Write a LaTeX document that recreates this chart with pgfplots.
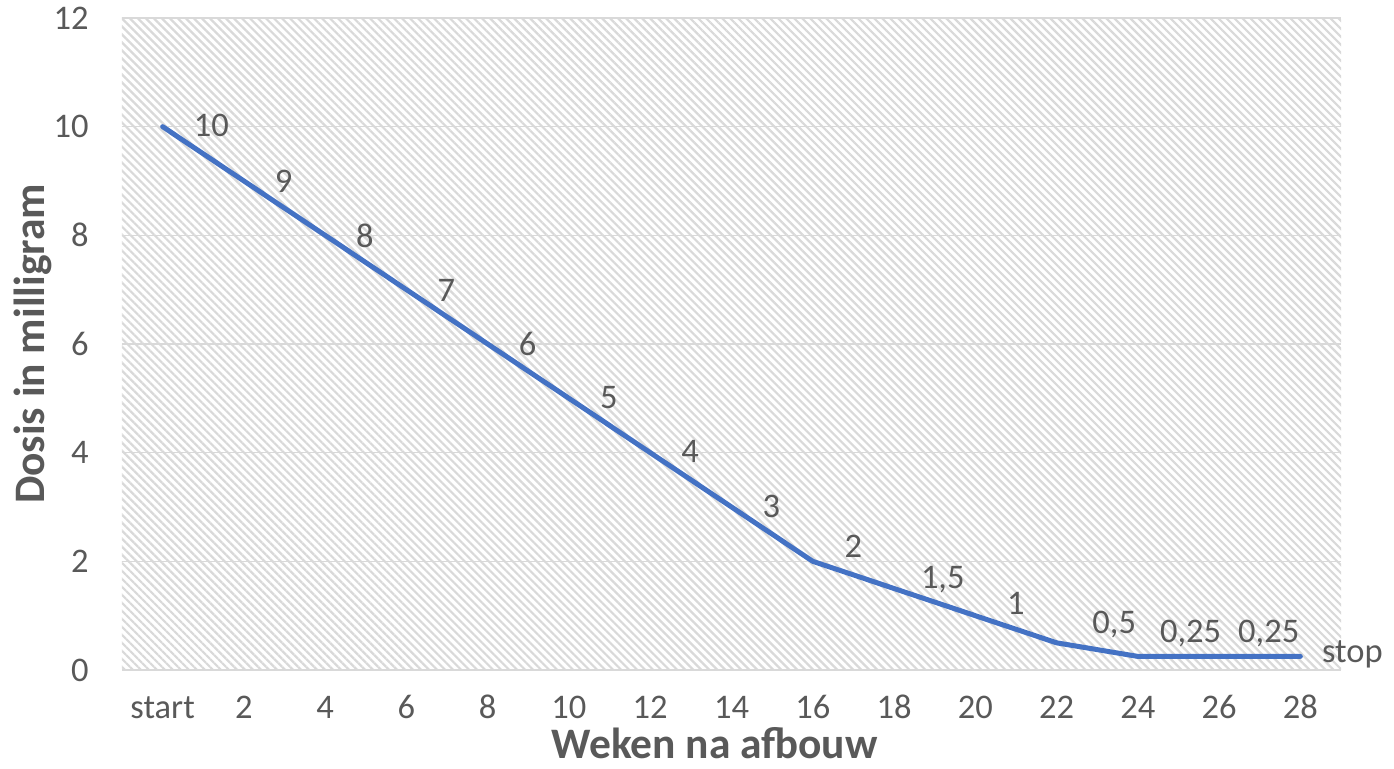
\documentclass[border=0pt]{standalone}
\usepackage{fontspec}
\setmainfont{Carlito}
\usepackage{pgfplots}
\pgfplotsset{compat=1.18}
\usetikzlibrary{patterns.meta}
\definecolor{txt}{HTML}{595959}
\definecolor{gridc}{HTML}{D9D9D9}
\definecolor{hatch}{HTML}{D9D9D9}
\definecolor{linec}{HTML}{4472C4}

\begin{document}
\begin{tikzpicture}
\useasboundingbox (0,0) rectangle (697pt,384.5pt);
\begin{axis}[
  at={(61pt,49.5pt)}, anchor=south west,
  width=609.5pt, height=326pt, scale only axis,
  xmin=-0.5, xmax=14.5, ymin=0, ymax=12,
  xtick={0,...,14},
  xticklabels={start,2,4,6,8,10,12,14,16,18,20,22,24,26,28},
  ytick={0,2,...,12},
  /pgf/number format/assume math mode=true,
  ymajorgrids,
  major grid style={gridc, line width=0.75pt},
  axis line style={draw=none},
  major tick length=0pt,
  tick style={draw=none},
  ticklabel style={font=\fontsize{17.25}{20}\selectfont, text=txt, inner sep=0pt},
  yticklabel style={anchor=east, xshift=-16.5pt},
  xticklabel style={anchor=base, yshift=-24.5pt},
  xlabel={Weken na afbouw},
  ylabel={Dosis in milligram},
  label style={font=\fontsize{21.75}{24}\selectfont\bfseries, text=txt, inner sep=0pt},
  xlabel style={at={([yshift=-44.5pt]axis description cs:0.486,0)}, anchor=base},
  ylabel style={at={([xshift=-38.5pt]axis description cs:0,0.5)}, anchor=base, rotate=0},
  axis background/.style={pattern={Lines[angle=-45,distance=2.83pt,line width=1.1pt]}, pattern color=hatch},
  clip=false,
]
\addplot[linec, line width=2.5pt, line cap=round, line join=round, mark=none] coordinates {
  (0,10) (1,9) (2,8) (3,7) (4,6) (5,5) (6,4) (7,3) (8,2) (9,1.5) (10,1) (11,0.5) (12,0.25) (13,0.25) (14,0.25)
};
\addplot[draw=none, mark=none, nodes near coords, point meta=explicit symbolic,
  nodes near coords style={anchor=base, inner sep=0pt, font=\fontsize{17.25}{20}\selectfont, text=txt}]
  table[meta=label] {
x y label
0.60 9.81 10
1.49 8.79 9
2.49 7.78 8
3.49 6.79 7
4.49 5.79 6
5.49 4.82 5
6.49 3.82 4
7.49 2.81 3
8.50 2.07 2
9.60 1.50 1,5
10.50 1.02 1
11.71 0.68 0,5
12.65 0.50 0,25
13.61 0.50 0,25
14.64 0.13 stop
};
\end{axis}
\end{tikzpicture}
\end{document}
